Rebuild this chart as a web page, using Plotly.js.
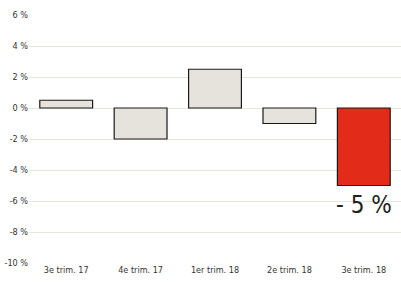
<!DOCTYPE html>
<html><head><meta charset="utf-8">
<script src="https://cdn.plot.ly/plotly-3.0.1.min.js"></script>
<style>body{margin:0;background:#fff}#c{width:401px;height:282px}
#c text{font-stretch:condensed !important;}</style>
</head><body><div id="c"></div>
<script>
var categories = ["3e trim. 17", "4e trim. 17", "1er trim. 18", "2e trim. 18", "3e trim. 18"];
var values = [0.5, -2, 2.5, -1, -5];
var barColors = ["#e6e2dc", "#e6e2dc", "#e6e2dc", "#e6e2dc", "#e32b1a"];
var yTicks = [6, 4, 2, 0, -2, -4, -6, -8, -10];
var yTickText = ["6 %", "4 %", "2 %", "0 %", "-2 %", "-4 %", "-6 %", "-8 %", "-10 %"];
var lastLabel = "- 5 %";

var font = "'DejaVu Sans Condensed', 'DejaVu Sans', sans-serif";
Plotly.newPlot("c", [{
  type: "bar", x: categories, y: values,
  marker: {color: barColors, line: {color: "#1a1a1a", width: 1.2}},
  hoverinfo: "none"
}], {
  width: 401, height: 282,
  margin: {l: 29, r: 0, t: 15, b: 19},
  paper_bgcolor: "#fff", plot_bgcolor: "#fff",
  bargap: 0.29,
  showlegend: false,
  font: {family: font, size: 9, color: "#333"},
  xaxis: {showgrid: false, zeroline: false, showline: false, ticks: "", tickfont: {family: font, size: 9, color: "#333"}},
  yaxis: {range: [-10, 6], tickvals: yTicks, ticktext: yTickText, showgrid: true, gridcolor: "#e8e4dc", gridwidth: 1,
          zeroline: false, ticks: "", ticklen: 0, tickfont: {family: font, size: 9, color: "#333"}},
  annotations: [{x: categories[4], y: values[4], yshift: -3, text: lastLabel, showarrow: false, yanchor: "top",
                 font: {family: font, size: 24, color: "#222"}}]
}, {staticPlot: true});
document.querySelectorAll("#c text").forEach(function(t){ t.style.fontStretch = "condensed"; });
</script></body></html>
